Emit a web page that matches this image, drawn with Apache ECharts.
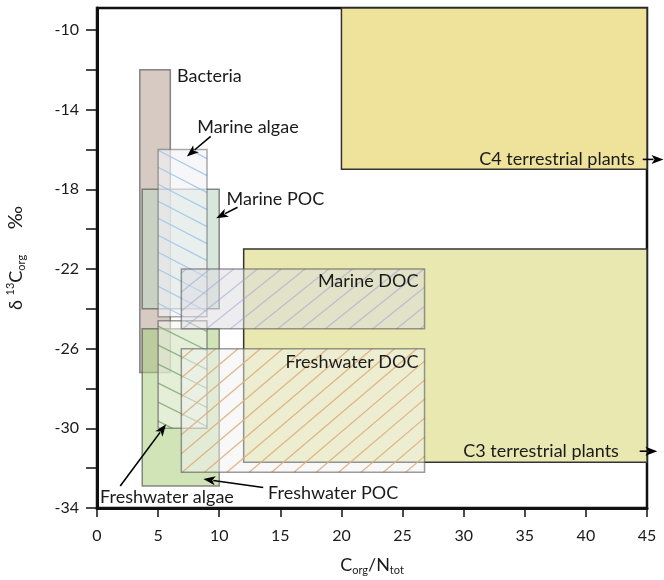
<!DOCTYPE html>
<html>
<head>
<meta charset="utf-8">
<script src="https://cdn.jsdelivr.net/npm/echarts@6/dist/echarts.min.js"></script>
<style>
  html, body { margin: 0; padding: 0; background: #fff; }
  #chart { width: 664px; height: 580px; }
</style>
</head>
<body>
<div id="chart"></div>
<script>
'use strict';

// source fields, drawn bottom to top
const sources = ['C4 terrestrial plants', 'C3 terrestrial plants', 'Bacteria', 'Freshwater POC',
    'Marine POC', 'Freshwater algae', 'Marine algae', 'Marine DOC', 'Freshwater DOC'];
const cnMin   = [20,    12,    3.5,   3.7,   3.7, 5,     5,     6.9,  6.9];
const cnMax   = [45,    45,    6,     10,    10,  9,     9,     26.8, 26.8];
const d13cMin = [-17,   -31.7, -27.2, -32.9, -24, -30,   -24.4, -25,  -32.2];
const d13cMax = [-8.9,  -21,   -12,   -25,   -18, -24.6, -16,   -22,  -26];

const xTicks = [0, 5, 10, 15, 20, 25, 30, 35, 40, 45];
const yTicks = [-34, -32, -30, -28, -26, -24, -22, -20, -18, -16, -14, -12, -10];
const yLabels = [-34, -30, -26, -22, -18, -14, -10];

const FONT = 'Lato, "Noto Sans", sans-serif';
const INK = '#1a1a1a';

const boxStyle = {
    'C4 terrestrial plants': {fill: '#efe39b', stroke: '#333', lw: 1.5},
    'C3 terrestrial plants': {fill: '#e8e8b0', stroke: '#333', lw: 1.5},
    'Bacteria':              {fill: '#d6cac2', stroke: 'rgba(90,90,90,0.7)', lw: 1.5},
    'Freshwater POC':        {fill: 'rgba(170,205,125,0.55)', stroke: 'rgba(90,90,90,0.7)', lw: 1.5},
    'Marine POC':            {fill: 'rgba(190,215,195,0.6)', stroke: 'rgba(90,90,90,0.7)', lw: 1.5},
    'Freshwater algae':      {fill: 'rgba(245,245,240,0.55)', stroke: 'rgba(90,90,90,0.6)', lw: 1.5,
                              hatch: {slope: 0.5, gap: 19, color: 'rgba(120,165,115,0.8)'}},
    'Marine algae':          {fill: 'rgba(242,242,247,0.65)', stroke: 'rgba(90,90,90,0.5)', lw: 1.5,
                              hatch: {slope: 0.52, gap: 17, color: 'rgba(150,195,235,0.8)'}},
    'Marine DOC':            {fill: 'rgba(220,220,226,0.5)', stroke: 'rgba(90,90,90,0.6)', lw: 1.5,
                              hatch: {slope: -0.8, gap: 19, color: 'rgba(160,160,205,0.55)'}},
    'Freshwater DOC':        {fill: 'rgba(242,242,242,0.5)', stroke: 'rgba(90,90,90,0.6)', lw: 1.5,
                              hatch: {slope: -0.85, gap: 19, color: 'rgba(222,175,125,0.9)'}}
};

// labels and arrows, in data coordinates
const notes = [
    {text: 'Bacteria', at: [6.55, -12.3], align: 'left'},
    {text: 'Marine algae', at: [8.2, -14.9], align: 'left', arrow: [9.3, -15.35, 7.35, -16.35]},
    {text: 'Marine POC', at: [10.6, -18.5], align: 'left', arrow: [11.5, -18.9, 9.75, -19.45]},
    {text: 'Marine DOC', at: [26.3, -22.6], align: 'right'},
    {text: 'Freshwater DOC', at: [26.3, -26.7], align: 'right'},
    {text: 'C4 terrestrial plants', at: [44.0, -16.5], align: 'right', arrow: [44.65, -16.5, 46.35, -16.5]},
    {text: 'C3 terrestrial plants', at: [42.7, -31.15], align: 'right', arrow: [44.4, -31.15, 45.85, -31.15]},
    {text: 'Freshwater algae', at: [0.25, -33.45], align: 'left', arrow: [1.9, -32.9, 5.65, -29.8]},
    {text: 'Freshwater POC', at: [14.0, -33.25], align: 'left', arrow: [13.6, -32.97, 8.7, -32.55]}
];

function hatchLines(L, T, R, B, h) {
    const out = [];
    const s = h.slope;
    const cs = [T - s * L, T - s * R, B - s * L, B - s * R];
    const c0 = Math.ceil(Math.min.apply(null, cs) / h.gap) * h.gap;
    const c1 = Math.max.apply(null, cs);
    for (let c = c0; c <= c1; c += h.gap) {
        let xa = s > 0 ? (T - c) / s : (B - c) / s;
        let xb = s > 0 ? (B - c) / s : (T - c) / s;
        xa = Math.max(xa, L);
        xb = Math.min(xb, R);
        if (xb - xa < 0.5) continue;
        out.push({
            type: 'line',
            shape: {x1: xa, y1: s * xa + c, x2: xb, y2: s * xb + c},
            style: {stroke: h.color, lineWidth: 1.3}
        });
    }
    return out;
}

function renderBox(params, api) {
    const st = boxStyle[sources[params.dataIndex]];
    const p0 = api.coord([api.value(0), api.value(3)]);
    const p1 = api.coord([api.value(1), api.value(2)]);
    const L = p0[0], T = p0[1], R = p1[0], B = p1[1];
    let children = [{
        type: 'rect',
        shape: {x: L, y: T, width: R - L, height: B - T},
        style: {fill: st.fill, stroke: null}
    }];
    if (st.hatch) {
        children = children.concat(hatchLines(L, T, R, B, st.hatch));
    }
    children.push({
        type: 'rect',
        shape: {x: L, y: T, width: R - L, height: B - T},
        style: {fill: null, stroke: st.stroke, lineWidth: st.lw}
    });
    return {type: 'group', children};
}

function arrowShapes(a, b) {
    const dx = b[0] - a[0], dy = b[1] - a[1];
    const len = Math.sqrt(dx * dx + dy * dy);
    const ux = dx / len, uy = dy / len;
    const hl = 12, hw = 4.5;
    const bx = b[0] - ux * hl, by = b[1] - uy * hl;
    return [
        {type: 'line', shape: {x1: a[0], y1: a[1], x2: bx + ux * 2, y2: by + uy * 2},
            style: {stroke: '#000', lineWidth: 1.6}},
        {type: 'polygon', shape: {points: [[b[0], b[1]], [bx - uy * hw, by + ux * hw], [bx + ux * 3, by + uy * 3], [bx + uy * hw, by - ux * hw]]},
            style: {fill: '#000'}}
    ];
}

function renderNote(params, api) {
    const n = notes[params.dataIndex];
    const p = api.coord(n.at);
    const children = [{
        type: 'text',
        x: p[0], y: p[1],
        style: {text: n.text, fill: INK, font: '18px ' + FONT, align: n.align, verticalAlign: 'middle'}
    }];
    if (n.arrow) {
        const a = api.coord([n.arrow[0], n.arrow[1]]);
        const b = api.coord([n.arrow[2], n.arrow[3]]);
        Array.prototype.push.apply(children, arrowShapes(a, b));
    }
    return {type: 'group', children};
}

const chart = echarts.init(document.getElementById('chart'), null, {renderer: 'canvas'});

const sub = {fontSize: 11, lineHeight: 8, verticalAlign: 'bottom', fontFamily: FONT, color: INK};
const sup = {fontSize: 11, lineHeight: 8, verticalAlign: 'top', fontFamily: FONT, color: INK};
const main = {fontSize: 18, lineHeight: 22, verticalAlign: 'middle', fontFamily: FONT, color: INK};

chart.setOption({
    animation: false,
    backgroundColor: '#fff',
    grid: {
        left: 97, right: 17, top: 8, bottom: 72,
        containLabel: false, outerBoundsMode: 'none',
        show: true, borderColor: '#111', borderWidth: 2.5, backgroundColor: 'transparent'
    },
    xAxis: {
        type: 'value', min: 0, max: 45, interval: 5,
        name: '{m|C}{s|org}{m|/N}{s|tot}',
        nameLocation: 'middle', nameGap: 46,
        nameTextStyle: {rich: {m: main, s: sub}},
        axisLine: {onZero: false, lineStyle: {color: '#111', width: 3}},
        axisTick: {length: 9, lineStyle: {color: '#111', width: 1.5}, customValues: xTicks},
        axisLabel: {margin: 20, fontSize: 16, fontFamily: FONT, color: INK, customValues: xTicks},
        splitLine: {show: false}
    },
    yAxis: {
        type: 'value', min: -34, max: -8.9, interval: 2,
        name: '{m|δ }{u|13}{m|C}{s|org}{p|     ‰}',
        nameLocation: 'middle', nameGap: 70, nameRotate: 90,
        nameTextStyle: {rich: {m: main, s: sub, u: sup, p: {fontSize: 20, lineHeight: 22, fontFamily: FONT, color: INK}}},
        axisLine: {onZero: false, lineStyle: {color: '#111', width: 3}},
        axisTick: {length: 11, lineStyle: {color: '#111', width: 1.5}, customValues: yTicks},
        axisLabel: {margin: 18, fontSize: 16, fontFamily: FONT, color: INK, customValues: yLabels},
        splitLine: {show: false}
    },
    series: [
        {
            type: 'custom',
            silent: true,
            clip: false,
            renderItem: renderBox,
            encode: {x: [0, 1], y: [2, 3]},
            data: sources.map((s, i) => [cnMin[i], cnMax[i], d13cMin[i], d13cMax[i]]),
            z: 2
        },
        {
            type: 'custom',
            silent: true,
            clip: false,
            renderItem: renderNote,
            data: notes.map((n, i) => [i]),
            z: 5
        }
    ]
});
</script>
</body>
</html>
